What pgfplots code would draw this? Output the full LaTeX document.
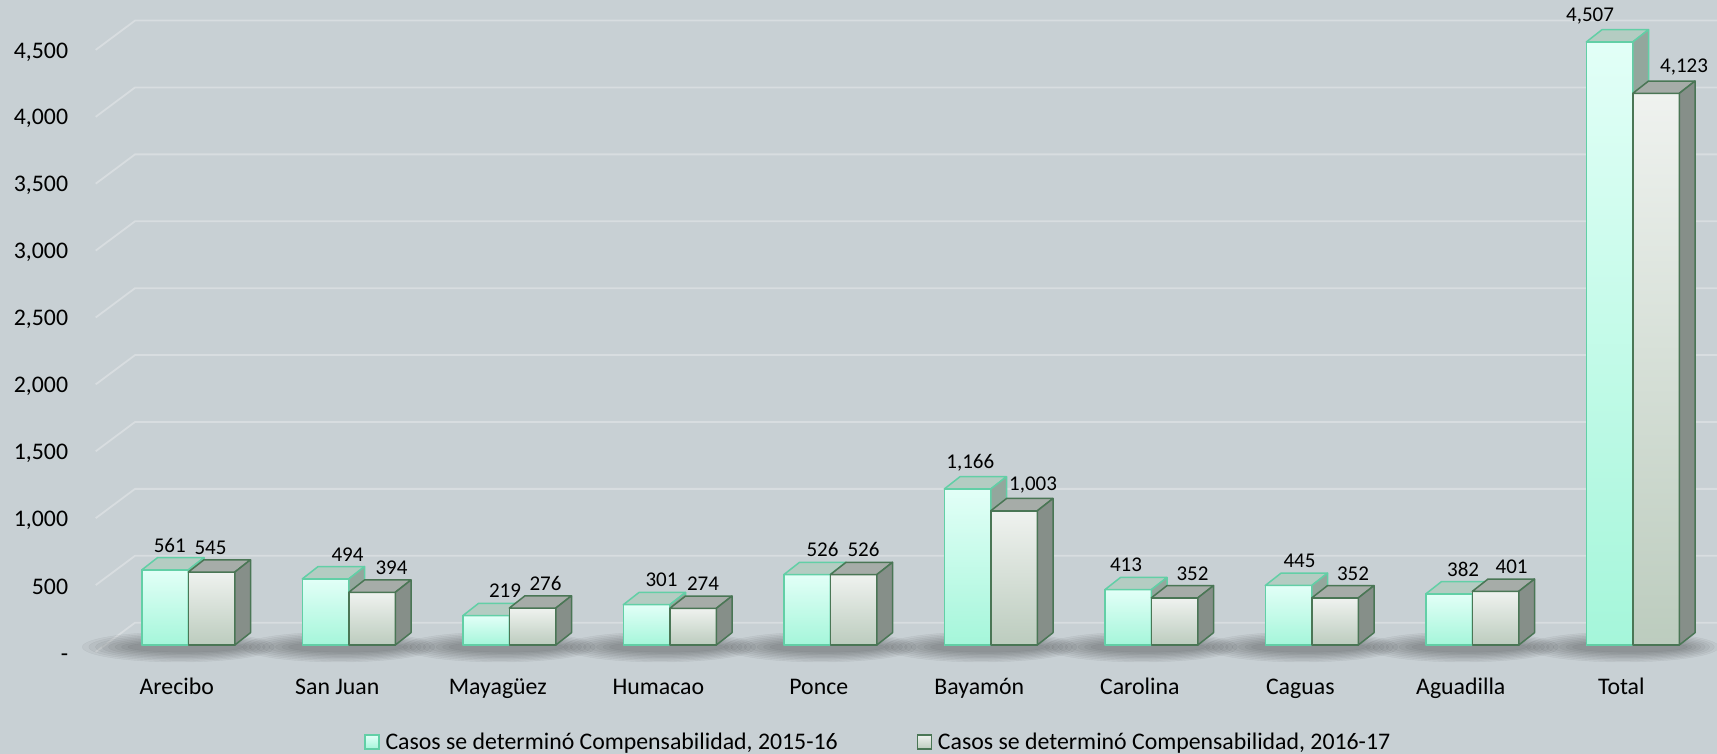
\documentclass[border=0pt]{standalone}
\usepackage{fontspec}
\setmainfont{Carlito}
\usepackage{pgfplots}
\usepackage{pgfplotstable}
\pgfplotsset{compat=1.18}

\definecolor{bgc}{RGB}{200,208,212}
\definecolor{gridc}{RGB}{216,221,224}
\definecolor{frontAtop}{HTML}{E2FFF7}
\definecolor{frontAbot}{HTML}{A5F6DA}
\definecolor{edgeA}{HTML}{62CFA6}
\definecolor{topA}{HTML}{B4CCC2}
\definecolor{sideA}{HTML}{93A79D}
\definecolor{frontBtop}{HTML}{EFF2EF}
\definecolor{frontBbot}{HTML}{BCCCBE}
\definecolor{edgeB}{HTML}{4A7655}
\definecolor{topB}{HTML}{A6ACA8}
\definecolor{sideB}{HTML}{868F89}

\pgfplotstableread{
x y1 y2 l1 l2
0 561 545 4.7 -1
1 494 394 22 19.5
2 219 276 19 13
3 301 274 15 10
4 526 526 15.5 10
5 1166 1003 2.7 19
6 413 352 -2 18
7 445 352 11 18
8 382 401 14 16
9 4507 4123 -19.5 28
}\datatable

% #1 bar shift, #2 top face, #3 side face, #4 edges, #5/#6 front face gradient
\newcommand\cubefaces[6]{%
  \pgfmathsetmacro\hh{\rawyv*0.1338}%
  \filldraw[top color=#5, bottom color=#6, draw=#4, line width=1.5pt, line join=round]
    (#1pt-23.25pt,-\hh pt) rectangle (#1pt+23.25pt,0pt);
  \filldraw[fill=#2, draw=#4, line width=1.5pt, line join=round]
    (#1pt-23.25pt,0pt) -- (#1pt+23.25pt,0pt) -- (#1pt+38.95pt,12.3pt) -- (#1pt-7.55pt,12.3pt) -- cycle;
  \filldraw[fill=#3, draw=#4, line width=1.5pt, line join=round]
    (#1pt+23.25pt,0pt) -- (#1pt+38.95pt,12.3pt) -- (#1pt+38.95pt,12.3pt-\hh pt) -- (#1pt+23.25pt,-\hh pt) -- cycle;
}
\pgfdeclareplotmark{cubeA}{\cubefaces{-23.25}{topA}{sideA}{edgeA}{frontAtop}{frontAbot}}
\pgfdeclareplotmark{cubeB}{\cubefaces{23.25}{topB}{sideB}{edgeB}{frontBtop}{frontBbot}}
\pgfdeclareplotmark{floorshadow}{%
  \foreach \k in {0,...,7}{%
    \fill[black, opacity=0.04] (-10pt+\k pt,-2pt) ellipse ({96pt-5.5pt*\k} and {15pt-1.4pt*\k});}}

\begin{document}
\begin{tikzpicture}
\begin{axis}[
  x=160.5pt, y=0.1338pt,
  xmin=-1.17321, xmax=9.52461, ymin=-814.65, ymax=4820.63,
  set layers=standard,
  axis background/.style={fill=bgc},
  axis line style={draw=none},
  major tick length=0pt,
  clip=false,
  xtick={0,...,9},
  xticklabels={Arecibo,San Juan,Mayagüez,Humacao,Ponce,Bayamón,Carolina,Caguas,Aguadilla,Total},
  xticklabel style={anchor=base, inner sep=0pt, yshift=59pt, xshift=-11.5pt, font=\fontsize{23.8}{28}\selectfont},
  ytick={0,500,...,4500},
  yticklabels={\smash{\raisebox{-8pt}{-}}\hspace{10pt},500,{1,000},{1,500},{2,000},{2,500},{3,000},{3,500},{4,000},{4,500}},
  yticklabel style={anchor=east, inner sep=0pt, xshift=68.3pt, yshift=-9pt, font=\fontsize{23.8}{28}\selectfont},
  /pgf/number format/assume math mode=true,
  /pgf/number format/1000 sep={,},
  legend style={at={(0.5115,0.0159)}, anchor=center, draw=none, fill=none,
    font=\fontsize{23.8}{28}\selectfont, legend columns=2,
    /tikz/every odd column/.append style={column sep=4pt},
    /tikz/every even column/.append style={column sep=77pt}},
  legend cell align=left,
]
\pgfplotsinvokeforeach{0,500,...,4500}{
  \begin{pgfonlayer}{axis grid}
  \draw[gridc, line width=1.8pt] ([yshift=22.3pt]axis cs:9.5246,#1) -- ([yshift=22.3pt]axis cs:-0.332,#1) -- ++(-39.3pt,-29.3pt);
  \end{pgfonlayer}
}
\addplot[forget plot, only marks, mark=floorshadow] table[x=x, y expr=0]{\datatable};
\addplot[only marks, mark=cubeA,
  point meta=explicit symbolic,
  visualization depends on={rawy \as \rawyv},
  nodes near coords={\pgfmathprintnumber{\rawyv}},
  every node near coord/.append style={font=\fontsize{21}{24}\selectfont, text=black, anchor=south, inner sep=0pt, yshift=17.5pt, xshift={\pgfplotspointmeta pt-23.25pt}},
  legend image code/.code={\draw[draw=edgeA, line width=1.2pt, top color=frontAtop, bottom color=frontAbot] (0pt,-7pt) rectangle (14pt,7pt);}
] table[x=x, y=y1, meta=l1]{\datatable};
\addlegendentry{Casos se determinó Compensabilidad, 2015-16}
\addplot[only marks, mark=cubeB,
  point meta=explicit symbolic,
  visualization depends on={rawy \as \rawyv},
  nodes near coords={\pgfmathprintnumber{\rawyv}},
  every node near coord/.append style={font=\fontsize{21}{24}\selectfont, text=black, anchor=south, inner sep=0pt, yshift=17.5pt, xshift={\pgfplotspointmeta pt+23.25pt}},
  legend image code/.code={\draw[draw=edgeB, line width=1.2pt, top color=frontBtop, bottom color=frontBbot] (0pt,-7pt) rectangle (14pt,7pt);}
] table[x=x, y=y2, meta=l2]{\datatable};
\addlegendentry{Casos se determinó Compensabilidad, 2016-17}
\end{axis}
\pgfresetboundingbox
\useasboundingbox (current axis.south west) rectangle (current axis.north east);
\end{tikzpicture}
\end{document}
